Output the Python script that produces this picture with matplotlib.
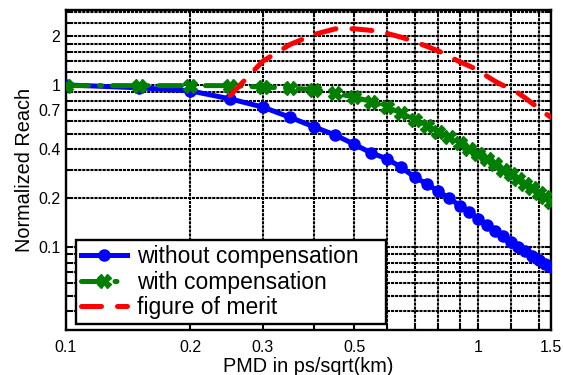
import matplotlib
matplotlib.use("Agg")
import matplotlib.pyplot as plt
from matplotlib.ticker import FixedLocator, NullFormatter

plt.rcParams['font.family'] = ['Liberation Sans', 'DejaVu Sans']

# PMD values (ps/sqrt(km))
pmd = [0.1, 0.15, 0.2, 0.25, 0.3, 0.35, 0.4, 0.45, 0.5, 0.55, 0.6, 0.65, 0.7, 0.75,
       0.8, 0.85, 0.9, 0.95, 1.0, 1.05, 1.1, 1.15, 1.2, 1.25, 1.3, 1.35, 1.4, 1.45, 1.5]
reach_without = [1.0, 0.96, 0.92, 0.82, 0.73, 0.63, 0.55, 0.49, 0.43, 0.38, 0.35, 0.31,
                 0.27, 0.245, 0.22, 0.2, 0.18, 0.165, 0.148, 0.136, 0.126, 0.116, 0.107,
                 0.1, 0.094, 0.088, 0.083, 0.079, 0.075]
reach_with = [0.99, 0.99, 0.99, 0.99, 0.97, 0.955, 0.935, 0.89, 0.84, 0.79, 0.73, 0.67,
              0.61, 0.56, 0.515, 0.475, 0.44, 0.405, 0.375, 0.35, 0.325, 0.30, 0.28,
              0.262, 0.245, 0.23, 0.215, 0.202, 0.19]
pmd_merit = pmd[3:]
merit = [0.86, 1.4, 1.78, 2.05, 2.22, 2.22, 2.17, 2.08, 1.97, 1.85, 1.73, 1.62, 1.5,
         1.39, 1.31, 1.23, 1.13, 1.05, 0.99, 0.94, 0.89, 0.83, 0.77, 0.72, 0.67, 0.63]

x_major = [0.1, 0.2, 0.3, 0.5, 1, 1.5]
x_minor = [0.4, 0.6, 0.7, 0.8, 0.9, 1.2, 1.4]
y_major = [0.1, 0.2, 0.4, 0.7, 1, 2]
y_minor = [0.04, 0.05, 0.06, 0.07, 0.08, 0.09, 0.3, 0.5, 0.6, 0.8, 0.9,
           1.2, 1.4, 1.6, 1.8, 2.4, 2.8]

fig = plt.figure(figsize=(5.63, 3.75), dpi=100)
ax = fig.add_axes([0.1172, 0.12, 0.8615, 0.8533])

ax.plot(pmd, reach_without, color='#0000FF', lw=3.6, marker='o', ms=8,
        label='without compensation', zorder=4)
ax.plot(pmd, reach_with, color='#007F00', lw=3.6, ls=(0, (4.5, 2.2, 0.4, 2.2)),
        dash_capstyle='round', marker='X', ms=9.5, label='with compensation', zorder=4)
ax.plot(pmd_merit, merit, color='#FF0000', lw=3.6, ls=(0, (4, 3.2)),
        dash_capstyle='round', label='figure of merit', zorder=4)

ax.set_xscale('log')
ax.set_yscale('log')
ax.set_xlim(0.1, 1.5)
ax.set_ylim(0.0307, 2.9)

ax.xaxis.set_major_locator(FixedLocator(x_major))
ax.xaxis.set_minor_locator(FixedLocator(x_minor))
ax.yaxis.set_major_locator(FixedLocator(y_major))
ax.yaxis.set_minor_locator(FixedLocator(y_minor))
ax.set_xticklabels([str(v) for v in x_major])
ax.set_yticklabels([str(v) for v in y_major])
ax.xaxis.set_minor_formatter(NullFormatter())
ax.yaxis.set_minor_formatter(NullFormatter())

ax.grid(which='both', color='black', lw=1.5, ls=(0, (1.5, 0.45)), zorder=1)
ax.set_axisbelow(True)
ax.tick_params(which='both', direction='in', length=4, width=1.4, top=True, right=True)
ax.tick_params(axis='x', labelsize=11.5, pad=7)
ax.tick_params(axis='y', labelsize=11.5, pad=4)
for s in ax.spines.values():
    s.set_linewidth(1.7)

ax.set_xlabel('PMD in ps/sqrt(km)', fontsize=14.3)
ax.set_ylabel('Normalized Reach', fontsize=14.3)
ax.xaxis.set_label_coords(0.5, -0.085)
ax.yaxis.set_label_coords(-0.066, 0.5)

leg = ax.legend(loc='lower left', bbox_to_anchor=(0.0206, 0.019, 0.639, 0.2625),
                mode='expand', borderaxespad=0,
                fontsize=16.5, handlelength=2.0, handletextpad=0.45, labelspacing=0.1,
                borderpad=0.22, fancybox=False, framealpha=1, edgecolor='black',
                numpoints=1)
leg.get_frame().set_linewidth(1.7)
leg.set_zorder(10)

fig.savefig('out.png', dpi=100)
